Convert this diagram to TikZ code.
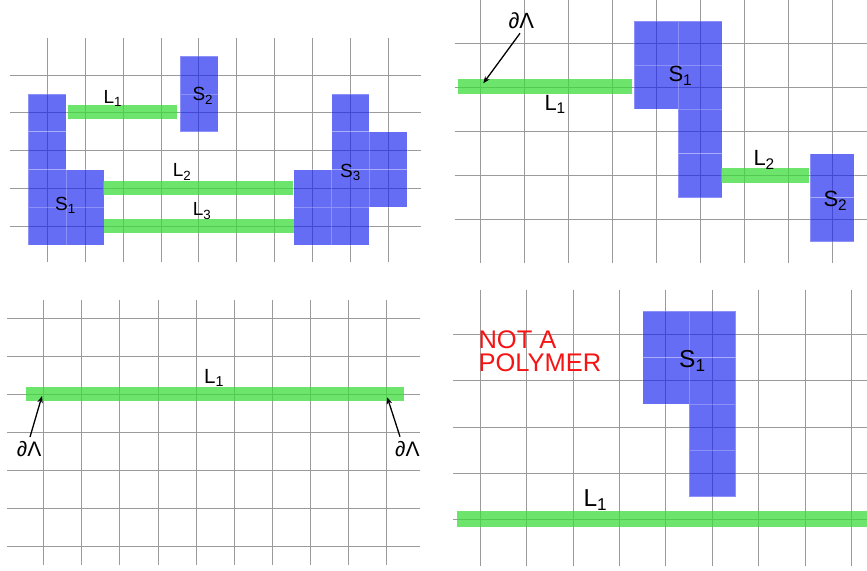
\documentclass[tikz,border=0pt]{standalone}
\usepackage{fontspec}
\setmainfont{Liberation Sans}
\usetikzlibrary{arrows.meta}
\definecolor{gridc}{RGB}{155,155,155}
\definecolor{sitec}{RGB}{20,30,240}
\definecolor{polyc}{RGB}{60,220,60}
\definecolor{redc}{RGB}{245,20,20}
\tikzset{
  gridline/.style={draw=gridc, line width=1pt},
  site/.style={fill=sitec, fill opacity=0.65, draw=white, draw opacity=0.25, line width=0.6pt},
  poly/.style={draw=polyc, draw opacity=0.75},
  lab/.style={anchor=base west, inner sep=0pt, font=\fontsize{#1}{#1}\selectfont},
  lab/.default=19,
  pointer/.style={draw=black, line width=1.3pt, -{Stealth[length=7pt,width=5.5pt]}}
}
\begin{document}
\begin{tikzpicture}[x=1pt,y=-1pt]
\useasboundingbox (0,0) rectangle (867,570);
% ---------- panel 1 (top left)
\begin{scope}[shift={(47.3pt,-75pt)},x=37.9pt,y=-37.8pt]
  \foreach \i in {0,...,9} \draw[gridline] (\i,-0.98) -- (\i,4.95);
  \foreach \j in {0,...,4} \draw[gridline] (-0.98,\j) -- (9.85,\j);
  \foreach \a/\b in {0/1,0/2,0/3,0/4,1/3,1/4, 4/0,4/1, 8/1,8/2,8/3,8/4,9/2,9/3,7/3,7/4}
    \path[site] (\a-.5,\b-.5) rectangle (\a+.5,\b+.5);
  \draw[poly, line width=14pt] (0.54,0.97) -- (3.41,0.97);
  \draw[poly, line width=14pt] (1.48,3) -- (6.49,3);
  \draw[poly, line width=14pt] (1.5,4) -- (6.51,4);
\end{scope}
\node[lab=19] (aL1) at (103.3,103.3) {L\textsubscript{1}};
\node[lab=19] (aL2) at (172.7,176.7) {L\textsubscript{2}};
\node[lab=19] (aL3) at (192.7,215.7) {L\textsubscript{3}};
\node[lab=19] (aS1) at (55,210.7) {S\textsubscript{1}};
\node[lab=19] (aS2) at (192.3,100.7) {S\textsubscript{2}};
\node[lab=19] (aS3) at (340,177.3) {S\textsubscript{3}};
% ---------- panel 2 (top right)
\begin{scope}[shift={(480pt,-43.3pt)},x=44pt,y=-44.1pt]
  \foreach \i in {0,...,8} \draw[gridline] (\i,-0.98) -- (\i,4.98);
  \foreach \j in {0,...,4} \draw[gridline] (-0.57,\j) -- (8.8,\j);
  \foreach \a/\b in {4/0,5/0,4/1,5/1,5/2,5/3, 8/3,8/4}
    \path[site] (\a-.5,\b-.5) rectangle (\a+.5,\b+.5);
  \draw[poly, line width=14.5pt] (-0.51,0.98) -- (3.45,0.98);
  \draw[poly, line width=14.5pt] (5.47,3) -- (7.48,3);
\end{scope}
\node[lab=22] (bD) at (508.3,28.3) {∂Λ};
\node[lab=22] (bL1) at (544.3,110) {L\textsubscript{1}};
\node[lab=22] (bS1) at (668.3,81.7) {S\textsubscript{1}};
\node[lab=22] (bL2) at (753.3,165.7) {L\textsubscript{2}};
\node[lab=22] (bS2) at (823.3,206.7) {S\textsubscript{2}};
\coordinate (bAs) at (520,33.3);
\coordinate (bAe) at (483.3,83.3);
\draw[pointer] (bAs) -- (bAe);
% ---------- panel 3 (bottom left)
\begin{scope}[shift={(43.7pt,-318.3pt)},x=38.1pt,y=-38pt]
  \foreach \i in {0,...,9} \draw[gridline] (\i,-0.48) -- (\i,6.49);
  \foreach \j in {0,...,6} \draw[gridline] (-0.96,\j) -- (9.88,\j);
  \draw[poly, line width=13.6pt] (-0.47,1.99) -- (9.46,1.99);
\end{scope}
\node[lab=20.5] (cL1) at (204,383.3) {L\textsubscript{1}};
\node[lab=21] (cDl) at (16.7,456.7) {∂Λ};
\node[lab=21] (cDr) at (395,456.7) {∂Λ};
\coordinate (cAls) at (30,437);
\coordinate (cAle) at (42,396);
\coordinate (cArs) at (400,436.7);
\coordinate (cAre) at (387.3,397.3);
\draw[pointer] (cAls) -- (cAle);
\draw[pointer] (cArs) -- (cAre);
% ---------- panel 4 (bottom right)
\begin{scope}[shift={(480.3pt,-334.3pt)},x=46.4pt,y=-46.4pt]
  \foreach \i in {0,...,8} \draw[gridline] (\i,-0.95) -- (\i,5.0);
  \foreach \j in {0,...,4} \draw[gridline] (-0.59,\j) -- (8.4,\j);
  \foreach \a/\b in {4/0,5/0,4/1,5/1,5/2,5/3}
    \path[site] (\a-.5,\b-.5) rectangle (\a+.5,\b+.5);
  \draw[poly, line width=16pt] (-0.51,3.98) -- (8.4,3.98);
\end{scope}
\node[lab=24.5] (dS1) at (679,367.3) {S\textsubscript{1}};
\node[lab=24.5] (dL1) at (583.3,506.7) {L\textsubscript{1}};
\node[anchor=base west, inner sep=0pt, align=left, text=redc,
      font=\fontsize{25.5}{23.3}\selectfont] (dNP) at (478.3,371.7) {NOT A\\POLYMER};
\end{tikzpicture}
\end{document}
